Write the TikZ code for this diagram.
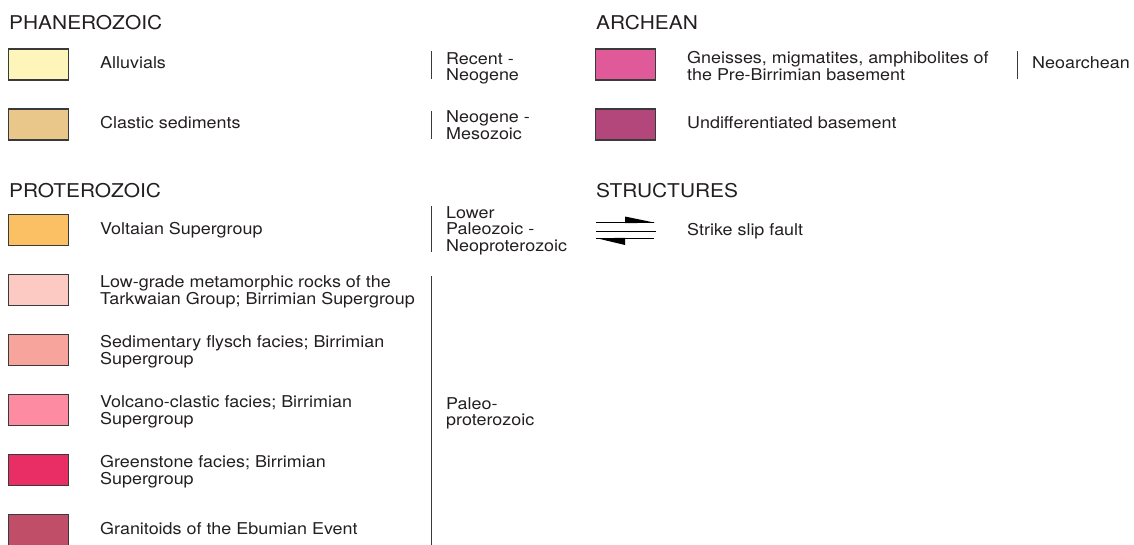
\documentclass[tikz,border=0pt]{standalone}
\usepackage{fontspec}
\setmainfont{TeX Gyre Heros}[FakeStretch=1.1]
\usepackage{tikz}
\definecolor{encre}{HTML}{231F20}
\definecolor{trait}{HTML}{3A3A3A}
\definecolor{alluvions}{HTML}{FEF5BB}
\definecolor{clastique}{HTML}{E9C68A}
\definecolor{voltaien}{HTML}{FBC064}
\definecolor{tarkwaien}{HTML}{FCC9C3}
\definecolor{flysch}{HTML}{F7A59C}
\definecolor{volcano}{HTML}{FD8BA2}
\definecolor{greenstone}{HTML}{E92E66}
\definecolor{granitoide}{HTML}{C04E68}
\definecolor{gneiss}{HTML}{E05A9A}
\definecolor{socle}{HTML}{B3477B}

\begin{document}
\begin{tikzpicture}[x=1pt,y=-1pt]
	% STYLES
	\tikzstyle{titre} = [anchor=base west, inner sep=0, text=encre, font=\fontsize{19}{19}\selectfont]
	\tikzstyle{legende} = [anchor=base west, inner sep=0, align=left, text=encre, font=\fontsize{16.3}{16.5}\selectfont]
	\tikzstyle{case} = [draw=trait, line width=1.2pt, minimum width=60pt, minimum height=31pt, inner sep=0]
	\tikzstyle{accolade} = [line width=1pt, draw=trait]
	\tikzstyle{faille} = [line width=1pt, draw=black]

	\useasboundingbox (0,0) rectangle (1134,544);

	% TITRES
	\node[titre] at (9, 29) (phan) {PHANEROZOIC};
	\node[titre] at (9, 197) (prot) {PROTEROZOIC};
	\node[titre] at (596, 29) (arch) {ARCHEAN};
	\node[titre] at (596, 197) (struct) {STRUCTURES};

	% CASES
	\node[case, fill=alluvions] at (38.5, 64.5) (alluv) {};
	\node[case, fill=clastique] at (38.5, 124.5) (clast) {};
	\node[case, fill=voltaien] at (38.5, 230) (volt) {};
	\node[case, fill=tarkwaien] at (38.5, 290) (tark) {};
	\node[case, fill=flysch] at (38.5, 350) (flysch) {};
	\node[case, fill=volcano] at (38.5, 410) (volc) {};
	\node[case, fill=greenstone] at (38.5, 470) (green) {};
	\node[case, fill=granitoide] at (38.5, 530) (grani) {};
	\node[case, fill=gneiss] at (625.5, 64.5) (gneiss) {};
	\node[case, fill=socle] at (625.5, 124.5) (socle) {};

	% LEGENDES (base = derniere ligne)
	\node[legende] at (100, 68) (t-alluv) {Alluvials};
	\node[legende] at (100, 128) (t-clast) {Clastic sediments};
	\node[legende] at (100, 234) (t-volt) {Voltaian Supergroup};
	\node[legende] at (100, 304) (t-tark) {Low-grade metamorphic rocks of the\\Tarkwaian Group; Birrimian Supergroup};
	\node[legende] at (100, 364) (t-flysch) {Sedimentary flysch facies; Birrimian\\Supergroup};
	\node[legende] at (100, 424) (t-volc) {Volcano-clastic facies; Birrimian\\Supergroup};
	\node[legende] at (100, 484) (t-green) {Greenstone facies; Birrimian\\Supergroup};
	\node[legende] at (100, 534.5) (t-grani) {Granitoids of the Ebumian Event};
	\node[legende] at (687, 80) (t-gneiss) {Gneisses, migmatites, amphibolites of\\the Pre-Birrimian basement};
	\node[legende] at (687, 128) (t-socle) {Undifferentiated basement};
	\node[legende] at (687, 235) (t-faille) {Strike slip fault};

	% AGES
	\node[legende] at (446, 80.5) (recent) {Recent -\\Neogene};
	\node[legende] at (446, 139) (neog) {Neogene -\\Mesozoic};
	\node[legende] at (446, 251) (lower) {Lower\\Paleozoic -\\Neoproterozoic};
	\node[legende] at (446, 425.5) (paleo) {Paleo-\\proterozoic};
	\node[legende] at (1032, 68.5) (neoar) {Neoarchean};

	\path[accolade] (431, 51) -- ++(0, 28);
	\path[accolade] (431, 111) -- ++(0, 28);
	\path[accolade] (431, 206) -- ++(0, 46);
	\path[accolade] (431, 276) -- ++(0, 270);
	\path[accolade] (1017, 51) -- ++(0, 28);

	% FAILLE
	\path[faille] (596, 222.7) -- ++(58, 0);
	\path[faille] (596, 231) -- ++(60, 0);
	\path[faille] (596, 238.3) -- ++(58, 0);
	\fill[black] (625, 216.5) -- (655, 222.7) -- (625, 223.2) -- cycle;
	\fill[black] (597, 238.3) -- (625, 237.8) -- (625, 245) -- cycle;
\end{tikzpicture}
\end{document}
